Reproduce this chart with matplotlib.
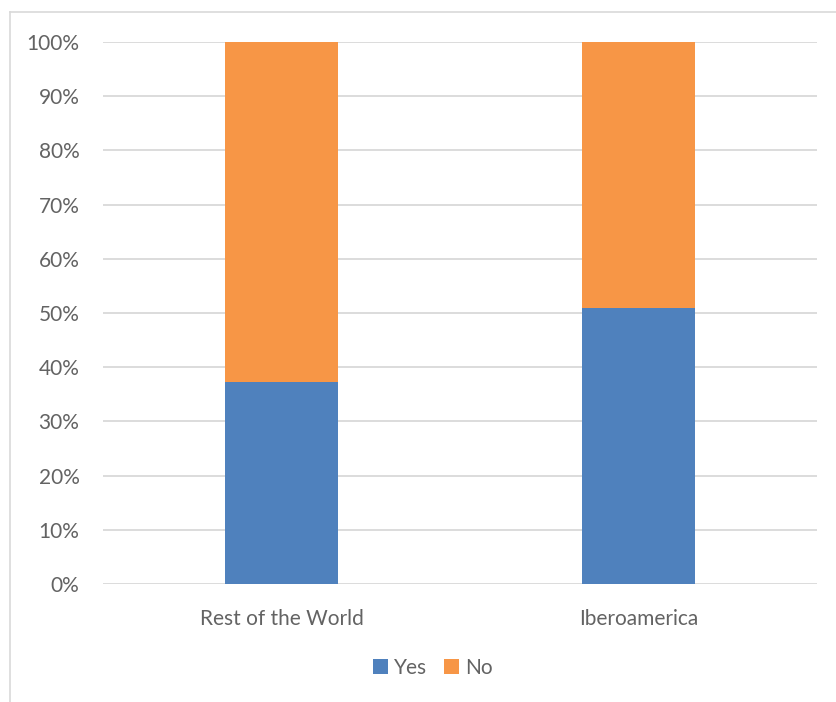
import matplotlib
matplotlib.use("Agg")
import matplotlib.pyplot as plt
from matplotlib.lines import Line2D

categories = ["Rest of the World", "Iberoamerica"]
yes = [37.2, 50.9]
no = [100 - v for v in yes]

plt.rcParams["font.family"] = ["Lato", "DejaVu Sans"]
text_color = "#636363"

fig = plt.figure(figsize=(8.37, 7.02), dpi=100)
ax = fig.add_axes([0.1231, 0.1681, 0.853, 0.7721])

x = list(range(len(categories)))
ax.bar(x, yes, width=0.314, color="#4F81BD", label="Yes", zorder=3)
ax.bar(x, no, width=0.314, bottom=yes, color="#F79646", label="No", zorder=3)

ax.set_xlim(-0.5, 1.5)
ax.set_ylim(0, 100)
ax.set_yticks(range(0, 101, 10))
ax.set_yticklabels([f"{v}%" for v in range(0, 101, 10)])
ax.set_xticks(x)
ax.set_xticklabels(categories)
ax.yaxis.grid(True, color="#D9D9D9", linewidth=1.3, zorder=0)
for s in ax.spines.values():
    s.set_visible(False)
ax.tick_params(axis="both", length=0, labelsize=15, colors=text_color)
ax.tick_params(axis="y", pad=17)
ax.tick_params(axis="x", pad=18)

leg = ax.legend(loc="center", bbox_to_anchor=(433 / 837, 1 - 668 / 702),
                bbox_transform=fig.transFigure, ncol=2, frameon=False,
                fontsize=15, handlelength=0.7, handleheight=0.7,
                handletextpad=0.3, columnspacing=0.8)
for t in leg.get_texts():
    t.set_color(text_color)

# chart area border (left and top)
fig.add_artist(Line2D([9.5 / 837, 9.5 / 837], [0, 1 - 12 / 702],
                      transform=fig.transFigure, color="#D9D9D9", linewidth=1.2))
fig.add_artist(Line2D([9.5 / 837, 1], [1 - 12 / 702, 1 - 12 / 702],
                      transform=fig.transFigure, color="#D9D9D9", linewidth=1.2))

fig.savefig("out.png", dpi=100)
